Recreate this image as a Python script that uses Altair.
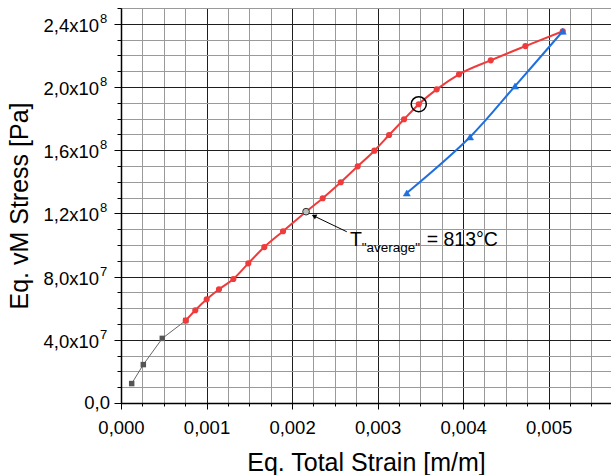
import altair as alt
import pandas as pd

# ---------------- data ----------------
gray_x = [0.000125, 0.000261, 0.000483, 0.000757]
gray_y = [1.23e7, 2.43e7, 4.09e7, 5.22e7]

red_x = [0.000757, 0.000869, 0.001002, 0.001146, 0.001314, 0.001489, 0.001676,
         0.001895, 0.002164, 0.002359, 0.002570, 0.002768, 0.002963, 0.003135,
         0.003310, 0.003482, 0.003692, 0.003953, 0.004324, 0.004729, 0.005166]
red_y = [5.22e7, 5.87e7, 6.56e7, 7.20e7, 7.85e7, 8.84e7, 9.87e7,
         1.087e8, 1.211e8, 1.296e8, 1.397e8, 1.498e8, 1.597e8, 1.696e8,
         1.796e8, 1.891e8, 1.985e8, 2.080e8, 2.169e8, 2.259e8, 2.353e8]

blue_x = [0.005166, 0.004608, 0.004082, 0.003342]
blue_y = [2.353e8, 2.006e8, 1.684e8, 1.329e8]

hollow_x = [0.002164]
hollow_y = [1.211e8]
circled_x = [0.003482]
circled_y = [1.891e8]

# annotation anchor points (data coordinates)
arrow_from = (0.002640, 1.084e8)
arrow_to = (0.002257, 1.1835e8)
txt_T = (0.002678, 1.0316e8)
txt_sub = (0.002815, 0.979e8)
txt_eq = (0.003575, 1.0316e8)

x_ticks = [round(i * 0.00025, 5) for i in range(23)]
y_ticks = [i * 1e7 for i in range(26)]
y_label_vals = [0, 4e7, 8e7, 1.2e8, 1.6e8, 2.0e8, 2.4e8]
y_label_mant = ["0,0", "4,0x10", "8,0x10", "1,2x10", "1,6x10", "2,0x10", "2,4x10"]
y_label_exp = ["", "7", "7", "8", "8", "8", "8"]

RED = "#EF3B3B"
BLUE = "#1F6FDF"
FONT = "Liberation Sans"

df_gray = pd.DataFrame({"x": gray_x, "y": gray_y})
df_red = pd.DataFrame({"x": red_x, "y": red_y})
df_blue = pd.DataFrame({"x": blue_x, "y": blue_y, "i": list(range(len(blue_x)))})
df_hollow = pd.DataFrame({"x": hollow_x, "y": hollow_y})
df_circ = pd.DataFrame({"x": circled_x, "y": circled_y})
df_arrow = pd.DataFrame({"x": [arrow_from[0]], "y": [arrow_from[1]],
                         "x2": [arrow_to[0]], "y2": [arrow_to[1]]})
df_head = pd.DataFrame({"x": [arrow_to[0]], "y": [arrow_to[1]]})
df_T = pd.DataFrame({"x": [txt_T[0]], "y": [txt_T[1]], "t": ["T"]})
df_sub = pd.DataFrame({"x": [txt_sub[0]], "y": [txt_sub[1]], "t": ['"average"']})
df_eq = pd.DataFrame({"x": [txt_eq[0]], "y": [txt_eq[1]], "t": ["= 813°C"]})
df_ylab = pd.DataFrame({"y": y_label_vals, "m": y_label_mant, "e": y_label_exp})

xs = alt.Scale(domain=[0, 0.00573], nice=False, zero=False)
ys = alt.Scale(domain=[0, 2.5e8], nice=False, zero=False)

x_major = "abs(datum.value*1000 - round(datum.value*1000)) < 0.01"
y_major = "abs(datum.value/4e7 - round(datum.value/4e7)) < 0.01"

xaxis = alt.Axis(
    values=x_ticks,
    title="Eq. Total Strain [m/m]",
    labelExpr=f"{x_major} ? replace(format(datum.value, '.3f'), '.', ',') : ''",
    grid=True,
    gridColor={"condition": {"test": x_major, "value": "#1e1e1e"}, "value": "#9a9a9a"},
    gridWidth=1, gridOpacity=1,
    ticks=True, tickColor="black", tickWidth=1,
    tickSize={"condition": {"test": x_major, "value": 6}, "value": 3},
    domain=True, domainColor="black", domainWidth=1.5,
    labelFont=FONT, labelFontSize=18.5, labelColor="black", labelPadding=9,
    labelOverlap=False, labelFlush=False, labelBound=False,
    titleFont=FONT, titleFontSize=25, titleFontWeight="normal", titleColor="black",
    titleX=245, titleY=67, titleBaseline="alphabetic", titleAlign="center",
)
yaxis = alt.Axis(
    values=y_ticks,
    title="Eq. vM Stress [Pa]",
    labels=False,
    grid=True,
    gridColor={"condition": {"test": y_major, "value": "#1e1e1e"}, "value": "#9a9a9a"},
    gridWidth=1, gridOpacity=1,
    ticks=True, tickColor="black", tickWidth=1,
    tickSize={"condition": {"test": y_major, "value": 7}, "value": 4},
    domain=True, domainColor="black", domainWidth=1.5,
    titleFont=FONT, titleFontSize=25, titleFontWeight="normal", titleColor="black",
    titleX=-94, titleY=197.5, titleAngle=270, titleBaseline="alphabetic", titleAlign="center",
)

X = alt.X("x:Q", scale=xs, axis=xaxis)
Y = alt.Y("y:Q", scale=ys, axis=yaxis)

gray_line = alt.Chart(df_gray).mark_line(color="#666666", strokeWidth=1).encode(x=X, y=Y)
gray_pts = alt.Chart(df_gray).mark_point(shape="square", filled=True, color="#555555",
                                         size=30, opacity=1).encode(x=X, y=Y)
red_line = alt.Chart(df_red).mark_line(color=RED, strokeWidth=2, interpolate="monotone").encode(x=X, y=Y)
red_pts = alt.Chart(df_red).mark_circle(color=RED, size=38, opacity=1).encode(x=X, y=Y)
blue_line = alt.Chart(df_blue).mark_line(color=BLUE, strokeWidth=2, interpolate="catmull-rom").encode(
    x=X, y=Y, order="i:Q")
blue_pts = alt.Chart(df_blue).mark_point(shape="triangle-up", filled=True, fill=BLUE, stroke=BLUE,
                                         strokeWidth=0.5, size=50, opacity=1).encode(x=X, y=Y)
hollow = alt.Chart(df_hollow).mark_point(shape="circle", filled=True, fill="#bdbdbd",
                                         stroke="#333333", strokeWidth=1, size=45,
                                         opacity=1).encode(x=X, y=Y)
circ = alt.Chart(df_circ).mark_point(shape="circle", filled=False, color="black",
                                     strokeWidth=1.5, size=227, opacity=1).encode(x=X, y=Y)
arrow = alt.Chart(df_arrow).mark_rule(color="black", strokeWidth=1).encode(
    x=X, y=Y, x2="x2:Q", y2="y2:Q")
head = alt.Chart(df_head).mark_point(shape="triangle-up", filled=True, color="black",
                                     size=30, angle=296, opacity=1).encode(x=X, y=Y)
tT = alt.Chart(df_T).mark_text(font=FONT, fontSize=19.5, align="left", baseline="middle",
                               color="black").encode(x=X, y=Y, text="t:N")
tsub = alt.Chart(df_sub).mark_text(font=FONT, fontSize=13.5, align="left", baseline="middle",
                                   color="black").encode(x=X, y=Y, text="t:N")
teq = alt.Chart(df_eq).mark_text(font=FONT, fontSize=19.5, align="left", baseline="middle",
                                 color="black").encode(x=X, y=Y, text="t:N")

ylab_m = alt.Chart(df_ylab).transform_filter("datum.e != ''").mark_text(
    font=FONT, fontSize=18.5, align="right", baseline="middle", dy=2, color="black"
).encode(x=alt.value(-22), y=Y, text="m:N")
ylab_e = alt.Chart(df_ylab).transform_filter("datum.e != ''").mark_text(
    font=FONT, fontSize=13, align="left", baseline="middle", dy=-5, color="black"
).encode(x=alt.value(-21), y=Y, text="e:N")
ylab_0 = alt.Chart(df_ylab).transform_filter("datum.e == ''").mark_text(
    font=FONT, fontSize=18.5, align="right", baseline="middle", dy=0, color="black"
).encode(x=alt.value(-11), y=Y, text="m:N")

chart = alt.layer(
    gray_line, gray_pts, red_line, red_pts, blue_line, blue_pts, hollow, circ,
    arrow, head, tT, tsub, teq, ylab_m, ylab_e, ylab_0
).properties(
    width=490, height=395,
    padding={"left": 121, "top": 8, "right": 0, "bottom": 72},
    autosize="none",
    background="white",
).configure_view(stroke=None)

chart.save("out.html", embed_options={"renderer": "svg", "actions": False})
